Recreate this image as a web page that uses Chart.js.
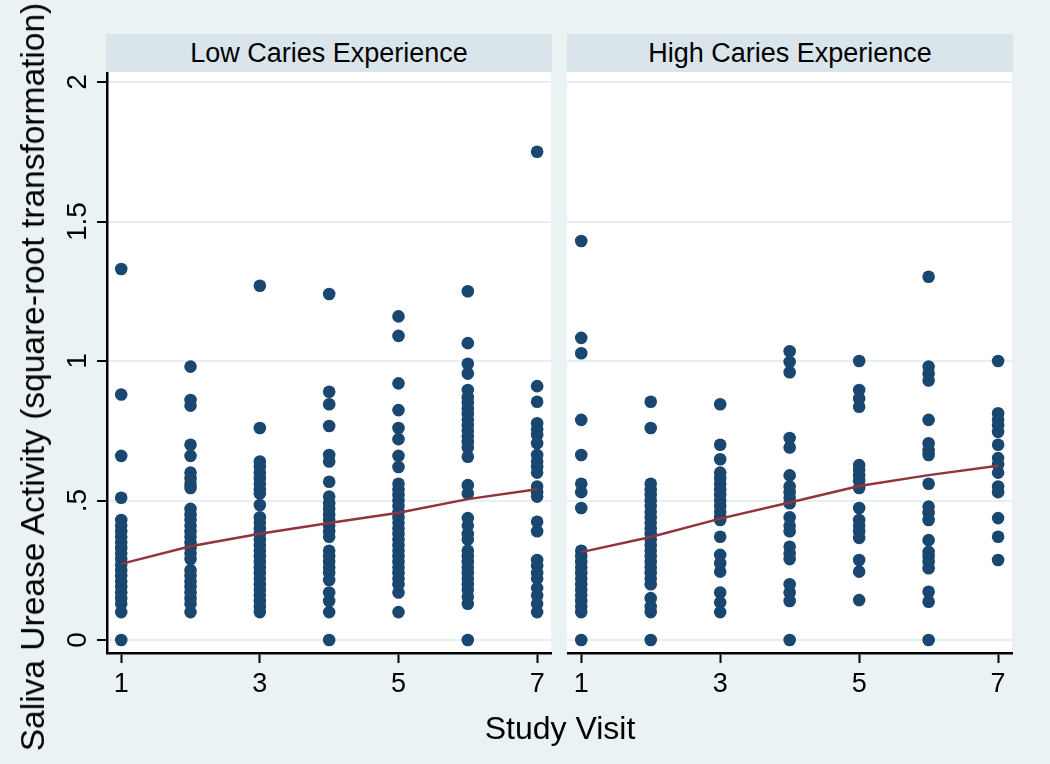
<!DOCTYPE html>
<html>
<head>
<meta charset="utf-8">
<script src="https://cdn.jsdelivr.net/npm/chart.js@4.4.1/dist/chart.umd.min.js"></script>
<style>
  html, body { margin: 0; padding: 0; }
  body { width: 1050px; height: 764px; background: #eaf2f3; position: relative; overflow: hidden;
         font-family: "Liberation Sans", Arial, sans-serif; color: #000; }
  .head { position: absolute; top: 34px; height: 38px; background: #d9e5eb; font-size: 27px;
          line-height: 38px; text-align: center; }
  .box { position: absolute; top: 72px; height: 692px; }
  #ytitle { position: absolute; left: 33px; top: 377px; white-space: nowrap; font-size: 33.5px;
            transform: translate(-50%, -50%) rotate(-90deg); }
  #xtitle { position: absolute; left: 560px; top: 728px; white-space: nowrap; font-size: 32px;
            transform: translate(-50%, -50%); }
</style>
</head>
<body>
<div class="head" style="left:106px;width:446px;">Low Caries Experience</div>
<div class="head" style="left:567px;width:446px;">High Caries Experience</div>
<div class="box" style="left:0;width:552px;"><canvas id="low"></canvas></div>
<div class="box" style="left:567px;width:483px;"><canvas id="high"></canvas></div>
<div id="ytitle">Saliva Urease Activity (square-root transformation)</div>
<div id="xtitle">Study Visit</div>
<script>
const visits = [1, 2, 3, 4, 5, 6, 7];
const xTicks = [1, 3, 5, 7];
const yTicks = [0, 0.5, 1, 1.5, 2];

// urease values per visit, low caries group
const lowUrease = [
  [1.33, 0.88, 0.66, 0.51, 0.43, 0.41, 0.39, 0.37, 0.35, 0.33, 0.31, 0.29, 0.27, 0.25, 0.23, 0.21, 0.19, 0.17, 0.15, 0.13, 0.10, 0],
  [0.98, 0.86, 0.84, 0.70, 0.66, 0.60, 0.58, 0.56, 0.545, 0.47, 0.45, 0.43, 0.41, 0.39, 0.37, 0.35, 0.33, 0.31, 0.29, 0.25, 0.23, 0.21, 0.19, 0.17, 0.15, 0.13, 0.10],
  [1.27, 0.76, 0.64, 0.62, 0.60, 0.58, 0.56, 0.54, 0.525, 0.484, 0.44, 0.42, 0.40, 0.38, 0.36, 0.34, 0.32, 0.30, 0.28, 0.26, 0.24, 0.22, 0.20, 0.18, 0.16, 0.14, 0.12, 0.10],
  [1.24, 0.89, 0.845, 0.767, 0.663, 0.64, 0.567, 0.514, 0.49, 0.47, 0.45, 0.43, 0.41, 0.39, 0.37, 0.32, 0.30, 0.28, 0.26, 0.24, 0.215, 0.17, 0.14, 0.10, 0],
  [1.16, 1.09, 0.92, 0.824, 0.76, 0.72, 0.66, 0.62, 0.56, 0.54, 0.52, 0.50, 0.48, 0.46, 0.44, 0.42, 0.40, 0.38, 0.36, 0.34, 0.32, 0.30, 0.28, 0.26, 0.24, 0.22, 0.20, 0.17, 0.10],
  [1.25, 1.064, 0.99, 0.955, 0.896, 0.87, 0.85, 0.83, 0.81, 0.79, 0.77, 0.75, 0.73, 0.71, 0.69, 0.657, 0.555, 0.525, 0.437, 0.41, 0.38, 0.36, 0.32, 0.30, 0.28, 0.26, 0.24, 0.22, 0.20, 0.18, 0.155, 0.13, 0],
  [1.75, 0.91, 0.854, 0.777, 0.755, 0.735, 0.705, 0.663, 0.64, 0.62, 0.60, 0.55, 0.53, 0.514, 0.424, 0.39, 0.287, 0.265, 0.24, 0.22, 0.186, 0.16, 0.13, 0.10]
];
// urease values per visit, high caries group
const highUrease = [
  [1.43, 1.083, 1.028, 0.789, 0.663, 0.56, 0.53, 0.473, 0.32, 0.30, 0.28, 0.26, 0.24, 0.22, 0.20, 0.18, 0.16, 0.14, 0.12, 0.10, 0],
  [0.854, 0.76, 0.56, 0.54, 0.52, 0.50, 0.48, 0.46, 0.44, 0.42, 0.40, 0.38, 0.36, 0.34, 0.32, 0.30, 0.28, 0.26, 0.24, 0.22, 0.20, 0.15, 0.12, 0.10, 0],
  [0.845, 0.70, 0.648, 0.60, 0.58, 0.56, 0.54, 0.52, 0.50, 0.48, 0.46, 0.44, 0.43, 0.37, 0.305, 0.275, 0.245, 0.17, 0.135, 0.10],
  [1.035, 0.997, 0.96, 0.724, 0.69, 0.59, 0.55, 0.53, 0.51, 0.49, 0.44, 0.41, 0.39, 0.334, 0.31, 0.29, 0.20, 0.17, 0.14, 0],
  [1.0, 0.896, 0.866, 0.836, 0.627, 0.61, 0.59, 0.57, 0.545, 0.473, 0.43, 0.41, 0.39, 0.366, 0.287, 0.245, 0.143],
  [1.302, 0.98, 0.955, 0.93, 0.789, 0.705, 0.68, 0.663, 0.56, 0.478, 0.455, 0.43, 0.358, 0.316, 0.30, 0.28, 0.257, 0.173, 0.137, 0],
  [1.0, 0.813, 0.79, 0.77, 0.746, 0.70, 0.652, 0.63, 0.60, 0.55, 0.53, 0.437, 0.37, 0.287]
];
// fitted mean line
const lowTrend = [0.273, 0.336, 0.381, 0.419, 0.456, 0.505, 0.54];
const highTrend = [0.315, 0.369, 0.435, 0.493, 0.552, 0.591, 0.625];

const NAVY = "#1a476f";
const MAROON = "#90353b";
const FONT = "'Liberation Sans', Arial, sans-serif";

const whitePlot = {
  id: "whitePlot",
  beforeDraw(chart) {
    const a = chart.chartArea, ctx = chart.ctx;
    ctx.save();
    ctx.fillStyle = "#ffffff";
    ctx.fillRect(a.left, a.top, a.right - a.left, a.bottom - a.top);
    ctx.restore();
  }
};

function makePanel(id, values, trend, showY, width, padRight) {
  const pts = [];
  values.forEach((col, i) => col.forEach(v => pts.push({ x: visits[i], y: v })));
  const line = visits.map((v, i) => ({ x: v, y: trend[i] }));
  const canvas = document.getElementById(id);
  canvas.width = width;
  canvas.height = 692;
  return new Chart(canvas, {
    type: "scatter",
    data: {
      datasets: [
        { type: "line", data: line, borderColor: MAROON, borderWidth: 2.5, pointRadius: 0, fill: false, order: 0 },
        { data: pts, backgroundColor: NAVY, borderColor: NAVY, borderWidth: 0, pointRadius: 6.3, order: 1 }
      ]
    },
    options: {
      responsive: false,
      animation: false,
      events: [],
      layout: { autoPadding: false, padding: { top: 0, left: 0, right: padRight, bottom: 0 } },
      plugins: { legend: { display: false }, tooltip: { enabled: false } },
      scales: {
        x: {
          type: "linear",
          min: 0.795,
          max: 7.2,
          afterBuildTicks: s => { s.ticks = xTicks.map(v => ({ value: v })); },
          afterFit: s => { s.height = 111; s.paddingLeft = 0; s.paddingRight = 0; },
          border: { display: true, color: "#000", width: 2.5 },
          grid: { drawOnChartArea: false, drawTicks: true, tickLength: 10, tickColor: "#000", tickWidth: 2 },
          ticks: { color: "#000", padding: 5, maxRotation: 0, font: { family: FONT, size: 27 }, callback: v => String(v) }
        },
        y: {
          type: "linear",
          min: -0.0466,
          max: 2.036,
          afterBuildTicks: s => { s.ticks = yTicks.map(v => ({ value: v })); },
          afterFit: s => { s.width = showY ? 107 : 0; s.paddingTop = 0; s.paddingBottom = 0; },
          border: { display: showY, color: "#000", width: 2.5 },
          grid: { color: "#e6eff1", lineWidth: 2, drawTicks: showY, tickLength: 10, tickColor: "#000", tickWidth: 2 },
          ticks: {
            display: showY, color: "#000", padding: -1, minRotation: 90, maxRotation: 90, crossAlign: "center",
            font: { family: FONT, size: 28 },
            callback: v => (v === 0 ? "0" : String(v).replace(/^0\./, "."))
          }
        }
      }
    },
    plugins: [whitePlot]
  });
}

makePanel("low", lowUrease, lowTrend, true, 552, 1);
makePanel("high", highUrease, highTrend, false, 483, 38);
</script>
</body>
</html>
